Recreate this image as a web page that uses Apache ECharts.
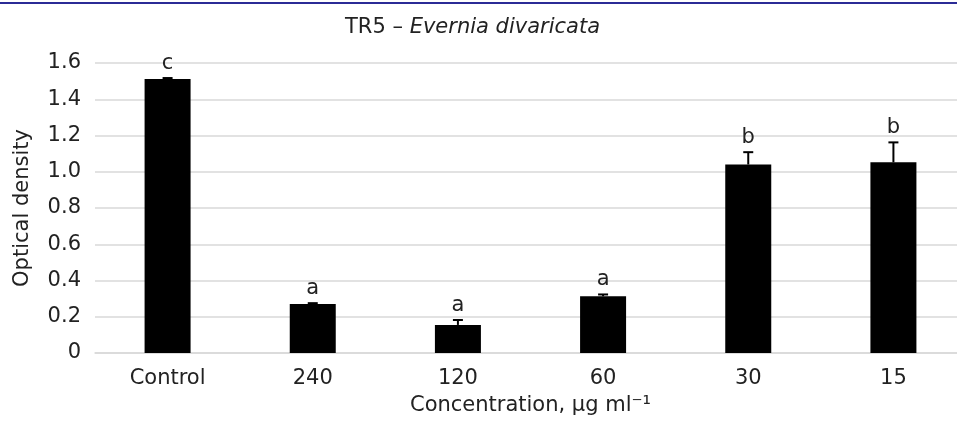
<!DOCTYPE html>
<html>
<head>
<meta charset="utf-8">
<script src="https://cdn.jsdelivr.net/npm/echarts@6/dist/echarts.min.js"></script>
<style>html,body{margin:0;padding:0;background:#fff;overflow:hidden;}#c{width:966px;height:421px;}</style>
</head>
<body>
<div id="c"></div>
<script>
const categories = ['Control', '240', '120', '60', '30', '15'];
const means = [1.512, 0.270, 0.155, 0.313, 1.040, 1.052];
const errors = [0.005, 0.005, 0.027, 0.010, 0.068, 0.110];
const letters = ['c', 'a', 'a', 'a', 'b', 'b'];
const yTicks = [0, 0.2, 0.4, 0.6, 0.8, 1.0, 1.2, 1.4, 1.6];

const chart = echarts.init(document.getElementById('c'), null, {renderer: 'canvas'});
const FONT = 'DejaVu Sans';
const FS = 21;
const errData = categories.map((c, i) => [i, means[i], errors[i]]);

chart.setOption({
  animation: false,
  backgroundColor: '#ffffff',
  textStyle: {fontFamily: FONT},
  graphic: [{
    type: 'line', shape: {x1: 0, y1: 3, x2: 957, y2: 3},
    style: {stroke: '#2b2b96', lineWidth: 2}
  }],
  title: {
    text: '{n|TR5 – }{i|Evernia divaricata}',
    left: 340, top: 12,
    textStyle: {
      fontWeight: 'normal',
      rich: {
        n: {fontFamily: FONT, fontSize: 21, fontWeight: 'normal', color: '#222'},
        i: {fontFamily: FONT, fontSize: 21, fontWeight: 'normal', fontStyle: 'italic', color: '#222'}
      }
    }
  },
  grid: {left: 95, top: 63, right: 0, bottom: 68, containLabel: false},
  xAxis: {
    type: 'category', data: categories,
    axisLine: {show: true, lineStyle: {color: '#d9d9d9', width: 1.5}},
    axisTick: {show: false},
    axisLabel: {color: '#222', fontSize: FS, fontFamily: FONT, margin: 15},
    name: 'Concentration, µg ml⁻¹',
    nameLocation: 'middle', nameGap: 42,
    nameTextStyle: {color: '#222', fontSize: FS, fontFamily: FONT}
  },
  yAxis: {
    type: 'value', min: 0, max: 1.6, interval: 0.2,
    splitLine: {show: true, lineStyle: {color: '#d9d9d9', width: 1.5}},
    axisLine: {show: false}, axisTick: {show: false},
    axisLabel: {
      color: '#222', fontSize: FS, fontFamily: FONT, margin: 14,
      formatter: v => {
        const t = yTicks.find(x => Math.abs(x - v) < 1e-6);
        return t === 0 ? '0' : (t !== undefined ? t.toFixed(1) : v.toFixed(1));
      }
    },
    name: 'Optical density', nameLocation: 'middle', nameGap: 62,
    nameTextStyle: {color: '#222', fontSize: FS, fontFamily: FONT}
  },
  series: [{
    type: 'bar', data: means, barWidth: 46,
    itemStyle: {color: '#000'}, z: 2
  }, {
    type: 'custom', data: errData, z: 3,
    encode: {x: 0, y: 1},
    renderItem: (params, api) => {
      const i = api.value(0), m = api.value(1), e = api.value(2);
      const base = api.coord([i, m]);
      const top = api.coord([i, m + e]);
      const hw = 5;
      return {
        type: 'group',
        children: [
          {type: 'line', shape: {x1: base[0], y1: base[1], x2: top[0], y2: top[1]}, style: {stroke: '#000', lineWidth: 2}},
          {type: 'line', shape: {x1: top[0] - hw, y1: top[1], x2: top[0] + hw, y2: top[1]}, style: {stroke: '#000', lineWidth: 2}},
          {type: 'text', x: top[0], y: top[1] - 4,
           style: {text: letters[params.dataIndex], fill: '#222', font: FS + 'px "DejaVu Sans"', align: 'center', verticalAlign: 'bottom'}}
        ]
      };
    }
  }]
});
</script>
</body>
</html>
